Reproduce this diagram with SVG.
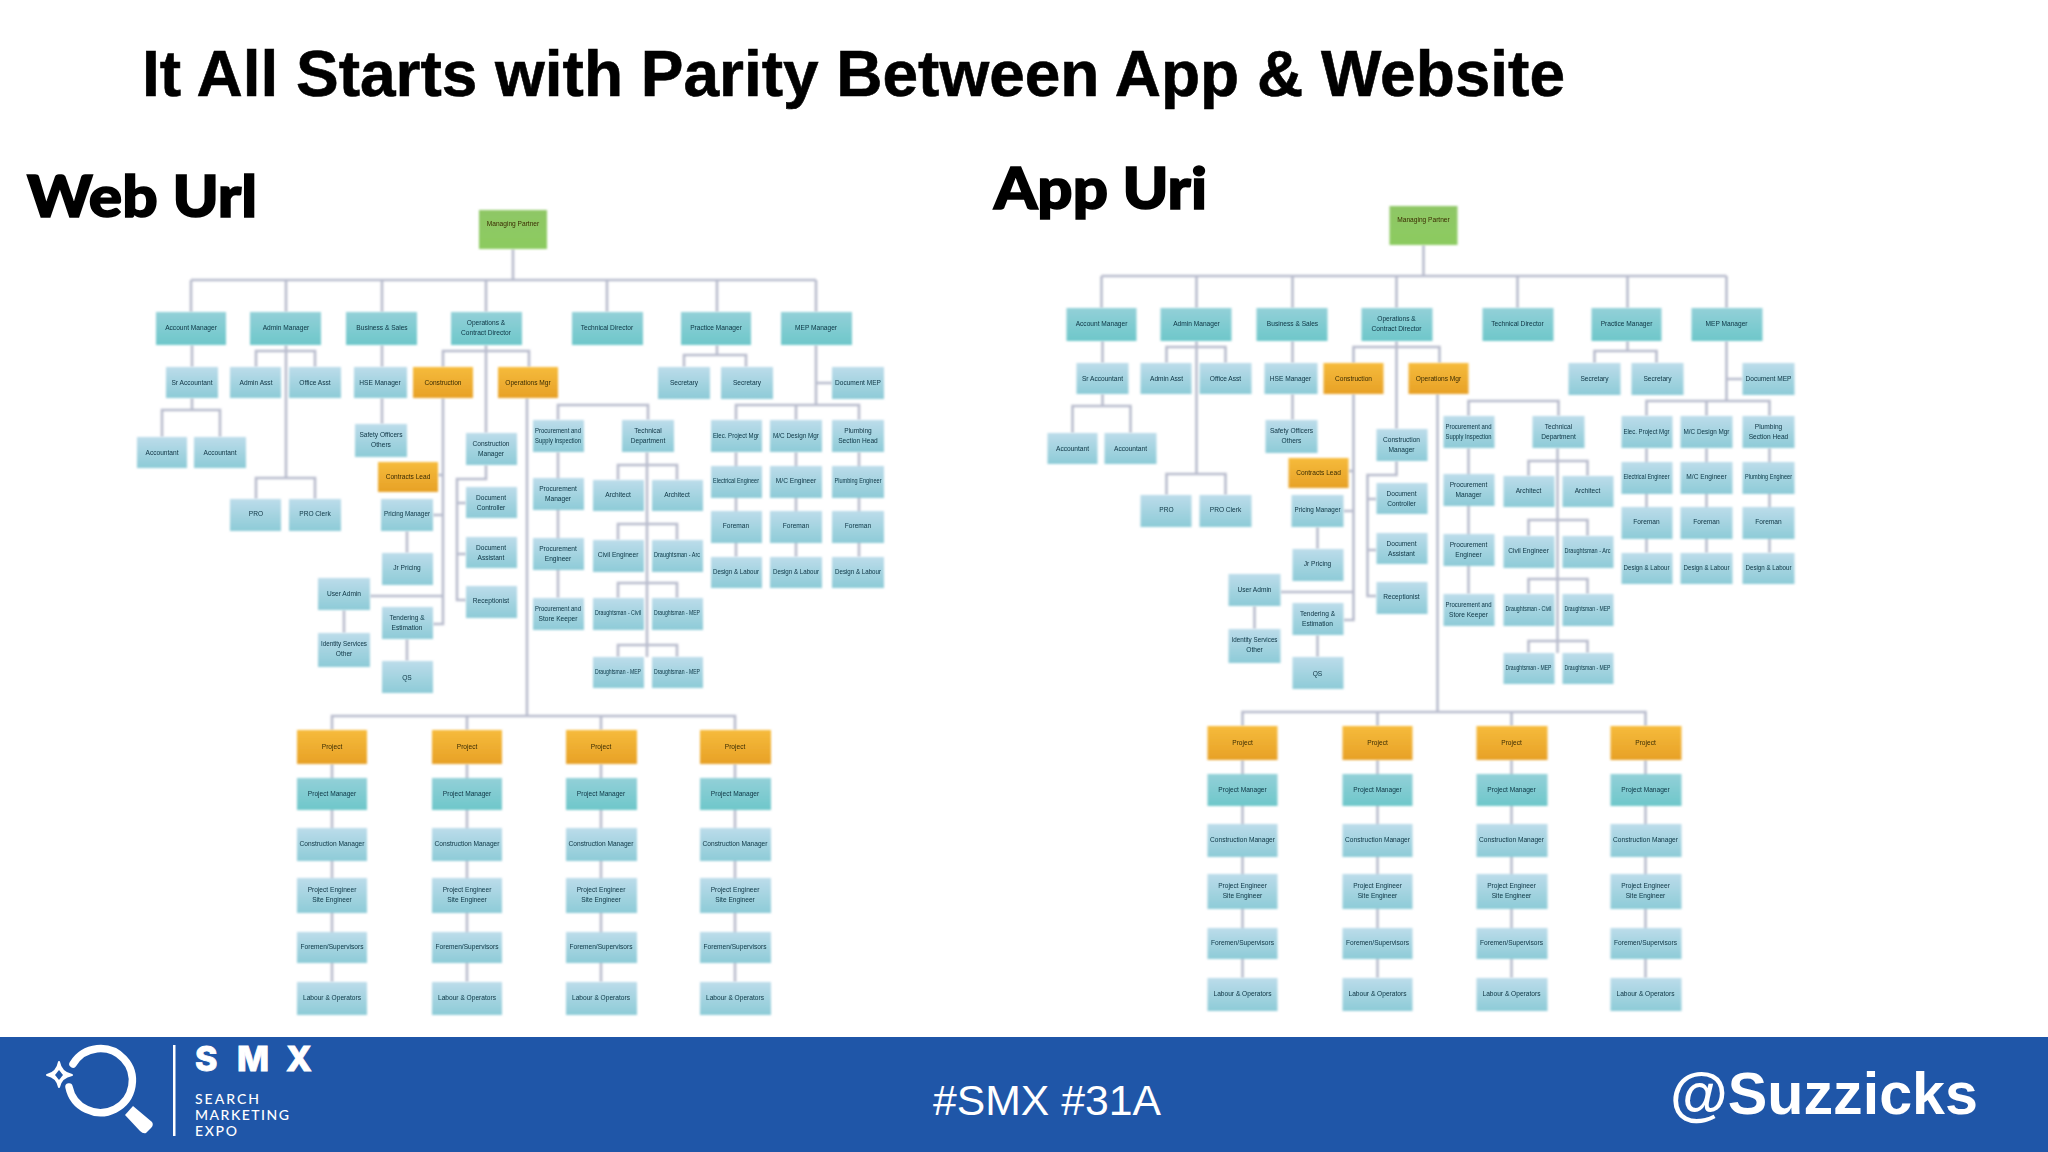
<svg xmlns="http://www.w3.org/2000/svg" width="2048" height="1152" viewBox="0 0 2048 1152">
<style>
.h{font-family:"Liberation Sans",Arial,sans-serif}
.s{font-family:Lato,"Open Sans",sans-serif;font-weight:900;stroke:#000;stroke-width:1.6}
.c text{font-family:"Liberation Sans",Arial,sans-serif;font-size:6.6px;font-weight:400;text-anchor:middle;fill:#0d3342;filter:url(#bt)}
.c .o+text,.c .g+text{fill:#3a2c08}
.c rect,.c path{filter:url(#bl)}
.t{fill:url(#gt)}.b{fill:url(#gb)}.o{fill:url(#go)}.g{fill:url(#gg)}
.k{fill:none;stroke:#b9bdce;stroke-width:2.6}
.f{fill:#fff;font-family:"Liberation Sans",Arial,sans-serif}
.l{fill:#fff;font-family:Lato,"Open Sans",sans-serif;font-weight:500;font-size:14px}
</style>
<defs>
<filter id="bl" x="-10%" y="-10%" width="120%" height="120%"><feGaussianBlur stdDeviation="1"/></filter>
<filter id="bt" x="-10%" y="-30%" width="120%" height="160%"><feGaussianBlur stdDeviation="0.45"/></filter>
<linearGradient id="gt" x1="0" y1="0" x2="0" y2="1"><stop offset="0" stop-color="#93d0d8"/><stop offset="1" stop-color="#6ec7ca"/></linearGradient>
<linearGradient id="gb" x1="0" y1="0" x2="0" y2="1"><stop offset="0" stop-color="#bcdcea"/><stop offset="1" stop-color="#8dcbd7"/></linearGradient>
<linearGradient id="go" x1="0" y1="0" x2="0" y2="1"><stop offset="0" stop-color="#f6bb3c"/><stop offset="1" stop-color="#e7a126"/></linearGradient>
<linearGradient id="gg" x1="0" y1="0" x2="0" y2="1"><stop offset="0" stop-color="#8fc766"/><stop offset="1" stop-color="#8ccb60"/></linearGradient>
</defs>
<rect width="2048" height="1152" fill="#fff"/>
<text id="title" class="h" x="142" y="96" font-size="64" font-weight="700" stroke="#000" stroke-width="0.6" textLength="1423" lengthAdjust="spacingAndGlyphs">It All Starts with Parity Between App &amp; Website</text>
<text id="web-label" class="s" x="27" y="217" font-size="58" textLength="230" lengthAdjust="spacingAndGlyphs">Web Url</text>
<text id="app-label" class="s" x="994" y="209" font-size="58" textLength="213" lengthAdjust="spacingAndGlyphs">App Uri</text>

<g id="web-chart" class="c">
<g id="web-connectors"><path class="k" d="M513 249V280M191 280H816M191 280V312M286 280V312M382 280V312M486 280V312M607 280V312M717 280V312M816 280V312M192 345V367M192 398V410M162 437V410H220V437M286 345V478M256 367V351H315V367M256 499V478H315V499M382 345V367M382 398V424M486 345V433M443 367V351H529V367M443 398V624H433M438 475H443M433 515H443M370 596H443M527 398V716M486 465V479H457V600H466M457 503H466M457 554H466M558 420V405H648V420M558 452V598M647 452V657M618 480V465H677V480M618 540V524H677V540M618 598V583H677V598M618 657V645H677V657M717 345V355M684 367V355H746V367M816 345V405M816 383H832M736 420V405H859V420M796 405V420M736 452V557M796 452V557M859 452V557M407 531V553M344 610V633M407 639V661M332 730V716H735V730M467 716V730M601 716V730M332 764V982M467 764V982M601 764V982M735 764V982"/></g>
<g id="w1"><rect class="g" x="479" y="210" width="68" height="39"/><text x="513" y="226">Managing Partner</text></g>
<g id="w2"><rect class="t" x="156" y="312" width="70" height="33"/><text x="191" y="330">Account Manager</text></g>
<g id="w3"><rect class="t" x="250" y="312" width="71" height="33"/><text x="286" y="330">Admin Manager</text></g>
<g id="w4"><rect class="t" x="346" y="312" width="71" height="33"/><text x="382" y="330">Business &amp; Sales</text></g>
<g id="w5"><rect class="t" x="451" y="312" width="71" height="33"/><text x="486" y="325">Operations &amp;</text><text x="486" y="335">Contract Director</text></g>
<g id="w6"><rect class="t" x="572" y="312" width="71" height="33"/><text x="607" y="330">Technical Director</text></g>
<g id="w7"><rect class="t" x="681" y="312" width="70" height="33"/><text x="716" y="330">Practice Manager</text></g>
<g id="w8"><rect class="t" x="781" y="312" width="71" height="33"/><text x="816" y="330">MEP Manager</text></g>
<g id="w9"><rect class="b" x="166" y="367" width="52" height="31"/><text x="192" y="385">Sr Accountant</text></g>
<g id="w10"><rect class="b" x="230" y="367" width="51" height="31"/><text x="256" y="385">Admin Asst</text></g>
<g id="w11"><rect class="b" x="289" y="367" width="52" height="31"/><text x="315" y="385">Office Asst</text></g>
<g id="w12"><rect class="b" x="354" y="367" width="53" height="31"/><text x="380" y="385">HSE Manager</text></g>
<g id="w13"><rect class="o" x="413" y="367" width="60" height="31"/><text x="443" y="385">Construction</text></g>
<g id="w14"><rect class="o" x="498" y="367" width="60" height="31"/><text x="528" y="385">Operations Mgr</text></g>
<g id="w15"><rect class="b" x="137" y="437" width="50" height="31"/><text x="162" y="455">Accountant</text></g>
<g id="w16"><rect class="b" x="194" y="437" width="52" height="31"/><text x="220" y="455">Accountant</text></g>
<g id="w17"><rect class="b" x="355" y="424" width="52" height="33"/><text x="381" y="437">Safety Officers</text><text x="381" y="447">Others</text></g>
<g id="w18"><rect class="o" x="378" y="462" width="60" height="30"/><text x="408" y="479">Contracts Lead</text></g>
<g id="w19"><rect class="b" x="381" y="499" width="52" height="32"/><text x="407" y="516" textLength="46" lengthAdjust="spacingAndGlyphs">Pricing Manager</text></g>
<g id="w20"><rect class="b" x="230" y="499" width="51" height="32"/><text x="256" y="516">PRO</text></g>
<g id="w21"><rect class="b" x="289" y="499" width="52" height="32"/><text x="315" y="516">PRO Clerk</text></g>
<g id="w22"><rect class="b" x="382" y="553" width="51" height="32"/><text x="407" y="570">Jr Pricing</text></g>
<g id="w23"><rect class="b" x="318" y="578" width="52" height="32"/><text x="344" y="596">User Admin</text></g>
<g id="w24"><rect class="b" x="318" y="633" width="52" height="34"/><text x="344" y="646" textLength="46" lengthAdjust="spacingAndGlyphs">Identity Services</text><text x="344" y="656">Other</text></g>
<g id="w25"><rect class="b" x="382" y="607" width="51" height="32"/><text x="407" y="620">Tendering &amp;</text><text x="407" y="630">Estimation</text></g>
<g id="w26"><rect class="b" x="382" y="661" width="51" height="32"/><text x="407" y="680">QS</text></g>
<g id="w27"><rect class="b" x="466" y="433" width="51" height="32"/><text x="491" y="446">Construction</text><text x="491" y="456">Manager</text></g>
<g id="w28"><rect class="b" x="466" y="487" width="51" height="31"/><text x="491" y="500">Document</text><text x="491" y="510">Controller</text></g>
<g id="w29"><rect class="b" x="466" y="537" width="51" height="31"/><text x="491" y="550">Document</text><text x="491" y="560">Assistant</text></g>
<g id="w30"><rect class="b" x="466" y="586" width="51" height="32"/><text x="491" y="603">Receptionist</text></g>
<g id="w31"><rect class="b" x="533" y="420" width="51" height="32"/><text x="558" y="433" textLength="46" lengthAdjust="spacingAndGlyphs">Procurement and</text><text x="558" y="443" textLength="46" lengthAdjust="spacingAndGlyphs">Supply Inspection</text></g>
<g id="w32"><rect class="b" x="622" y="420" width="52" height="32"/><text x="648" y="433">Technical</text><text x="648" y="443">Department</text></g>
<g id="w33"><rect class="b" x="533" y="478" width="51" height="32"/><text x="558" y="491">Procurement</text><text x="558" y="501">Manager</text></g>
<g id="w34"><rect class="b" x="533" y="538" width="51" height="32"/><text x="558" y="551">Procurement</text><text x="558" y="561">Engineer</text></g>
<g id="w35"><rect class="b" x="533" y="598" width="51" height="32"/><text x="558" y="611" textLength="46" lengthAdjust="spacingAndGlyphs">Procurement and</text><text x="558" y="621">Store Keeper</text></g>
<g id="w36"><rect class="b" x="593" y="480" width="51" height="31"/><text x="618" y="497">Architect</text></g>
<g id="w37"><rect class="b" x="652" y="480" width="51" height="31"/><text x="677" y="497">Architect</text></g>
<g id="w38"><rect class="b" x="593" y="540" width="51" height="32"/><text x="618" y="557">Civil Engineer</text></g>
<g id="w39"><rect class="b" x="652" y="540" width="51" height="32"/><text x="677" y="557" textLength="46" lengthAdjust="spacingAndGlyphs">Draughtsman - Arc</text></g>
<g id="w40"><rect class="b" x="593" y="598" width="51" height="32"/><text x="618" y="615" textLength="46" lengthAdjust="spacingAndGlyphs">Draughtsman - Civil</text></g>
<g id="w41"><rect class="b" x="652" y="598" width="51" height="32"/><text x="677" y="615" textLength="46" lengthAdjust="spacingAndGlyphs">Draughtsman - MEP</text></g>
<g id="w42"><rect class="b" x="593" y="657" width="51" height="31"/><text x="618" y="674" textLength="46" lengthAdjust="spacingAndGlyphs">Draughtsman - MEP</text></g>
<g id="w43"><rect class="b" x="652" y="657" width="51" height="31"/><text x="677" y="674" textLength="46" lengthAdjust="spacingAndGlyphs">Draughtsman - MEP</text></g>
<g id="w44"><rect class="b" x="658" y="367" width="52" height="32"/><text x="684" y="385">Secretary</text></g>
<g id="w45"><rect class="b" x="721" y="367" width="52" height="32"/><text x="747" y="385">Secretary</text></g>
<g id="w46"><rect class="b" x="832" y="367" width="52" height="32"/><text x="858" y="385" textLength="46" lengthAdjust="spacingAndGlyphs">Document MEP</text></g>
<g id="w47"><rect class="b" x="711" y="420" width="51" height="32"/><text x="736" y="438" textLength="46" lengthAdjust="spacingAndGlyphs">Elec. Project Mgr</text></g>
<g id="w48"><rect class="b" x="770" y="420" width="52" height="32"/><text x="796" y="438" textLength="46" lengthAdjust="spacingAndGlyphs">M/C Design Mgr</text></g>
<g id="w49"><rect class="b" x="832" y="420" width="52" height="32"/><text x="858" y="433">Plumbing</text><text x="858" y="443">Section Head</text></g>
<g id="w50"><rect class="b" x="711" y="466" width="51" height="32"/><text x="736" y="483" textLength="46" lengthAdjust="spacingAndGlyphs">Electrical Engineer</text></g>
<g id="w51"><rect class="b" x="770" y="466" width="52" height="32"/><text x="796" y="483">M/C Engineer</text></g>
<g id="w52"><rect class="b" x="832" y="466" width="52" height="32"/><text x="858" y="483" textLength="47" lengthAdjust="spacingAndGlyphs">Plumbing Engineer</text></g>
<g id="w53"><rect class="b" x="711" y="511" width="51" height="32"/><text x="736" y="528">Foreman</text></g>
<g id="w54"><rect class="b" x="770" y="511" width="52" height="32"/><text x="796" y="528">Foreman</text></g>
<g id="w55"><rect class="b" x="832" y="511" width="52" height="32"/><text x="858" y="528">Foreman</text></g>
<g id="w56"><rect class="b" x="711" y="557" width="51" height="31"/><text x="736" y="574" textLength="46" lengthAdjust="spacingAndGlyphs">Design &amp; Labour</text></g>
<g id="w57"><rect class="b" x="770" y="557" width="52" height="31"/><text x="796" y="574" textLength="46" lengthAdjust="spacingAndGlyphs">Design &amp; Labour</text></g>
<g id="w58"><rect class="b" x="832" y="557" width="52" height="31"/><text x="858" y="574" textLength="46" lengthAdjust="spacingAndGlyphs">Design &amp; Labour</text></g>
<g id="wa1"><rect class="o" x="297" y="730" width="70" height="34"/><text x="332" y="749">Project</text></g>
<g id="wa2"><rect class="t" x="297" y="778" width="70" height="32"/><text x="332" y="796">Project Manager</text></g>
<g id="wa3"><rect class="b" x="297" y="828" width="70" height="33"/><text x="332" y="846">Construction Manager</text></g>
<g id="wa4"><rect class="b" x="297" y="878" width="70" height="35"/><text x="332" y="892">Project Engineer</text><text x="332" y="902">Site Engineer</text></g>
<g id="wa5"><rect class="b" x="297" y="932" width="70" height="31"/><text x="332" y="949">Foremen/Supervisors</text></g>
<g id="wa6"><rect class="b" x="297" y="982" width="70" height="33"/><text x="332" y="1000">Labour &amp; Operators</text></g>
<g id="wb1"><rect class="o" x="432" y="730" width="70" height="34"/><text x="467" y="749">Project</text></g>
<g id="wb2"><rect class="t" x="432" y="778" width="70" height="32"/><text x="467" y="796">Project Manager</text></g>
<g id="wb3"><rect class="b" x="432" y="828" width="70" height="33"/><text x="467" y="846">Construction Manager</text></g>
<g id="wb4"><rect class="b" x="432" y="878" width="70" height="35"/><text x="467" y="892">Project Engineer</text><text x="467" y="902">Site Engineer</text></g>
<g id="wb5"><rect class="b" x="432" y="932" width="70" height="31"/><text x="467" y="949">Foremen/Supervisors</text></g>
<g id="wb6"><rect class="b" x="432" y="982" width="70" height="33"/><text x="467" y="1000">Labour &amp; Operators</text></g>
<g id="wc1"><rect class="o" x="566" y="730" width="71" height="34"/><text x="601" y="749">Project</text></g>
<g id="wc2"><rect class="t" x="566" y="778" width="71" height="32"/><text x="601" y="796">Project Manager</text></g>
<g id="wc3"><rect class="b" x="566" y="828" width="71" height="33"/><text x="601" y="846">Construction Manager</text></g>
<g id="wc4"><rect class="b" x="566" y="878" width="71" height="35"/><text x="601" y="892">Project Engineer</text><text x="601" y="902">Site Engineer</text></g>
<g id="wc5"><rect class="b" x="566" y="932" width="71" height="31"/><text x="601" y="949">Foremen/Supervisors</text></g>
<g id="wc6"><rect class="b" x="566" y="982" width="71" height="33"/><text x="601" y="1000">Labour &amp; Operators</text></g>
<g id="wd1"><rect class="o" x="700" y="730" width="71" height="34"/><text x="735" y="749">Project</text></g>
<g id="wd2"><rect class="t" x="700" y="778" width="71" height="32"/><text x="735" y="796">Project Manager</text></g>
<g id="wd3"><rect class="b" x="700" y="828" width="71" height="33"/><text x="735" y="846">Construction Manager</text></g>
<g id="wd4"><rect class="b" x="700" y="878" width="71" height="35"/><text x="735" y="892">Project Engineer</text><text x="735" y="902">Site Engineer</text></g>
<g id="wd5"><rect class="b" x="700" y="932" width="71" height="31"/><text x="735" y="949">Foremen/Supervisors</text></g>
<g id="wd6"><rect class="b" x="700" y="982" width="71" height="33"/><text x="735" y="1000">Labour &amp; Operators</text></g>
</g>

<g id="app-chart" class="c" transform="translate(910.5,-4)">
<g id="app-connectors"><path class="k" d="M513 249V280M191 280H816M191 280V312M286 280V312M382 280V312M486 280V312M607 280V312M717 280V312M816 280V312M192 345V367M192 398V410M162 437V410H220V437M286 345V478M256 367V351H315V367M256 499V478H315V499M382 345V367M382 398V424M486 345V433M443 367V351H529V367M443 398V624H433M438 475H443M433 515H443M370 596H443M527 398V716M486 465V479H457V600H466M457 503H466M457 554H466M558 420V405H648V420M558 452V598M647 452V657M618 480V465H677V480M618 540V524H677V540M618 598V583H677V598M618 657V645H677V657M717 345V355M684 367V355H746V367M816 345V405M816 383H832M736 420V405H859V420M796 405V420M736 452V557M796 452V557M859 452V557M407 531V553M344 610V633M407 639V661M332 730V716H735V730M467 716V730M601 716V730M332 764V982M467 764V982M601 764V982M735 764V982"/></g>
<g id="a1"><rect class="g" x="479" y="210" width="68" height="39"/><text x="513" y="226">Managing Partner</text></g>
<g id="a2"><rect class="t" x="156" y="312" width="70" height="33"/><text x="191" y="330">Account Manager</text></g>
<g id="a3"><rect class="t" x="250" y="312" width="71" height="33"/><text x="286" y="330">Admin Manager</text></g>
<g id="a4"><rect class="t" x="346" y="312" width="71" height="33"/><text x="382" y="330">Business &amp; Sales</text></g>
<g id="a5"><rect class="t" x="451" y="312" width="71" height="33"/><text x="486" y="325">Operations &amp;</text><text x="486" y="335">Contract Director</text></g>
<g id="a6"><rect class="t" x="572" y="312" width="71" height="33"/><text x="607" y="330">Technical Director</text></g>
<g id="a7"><rect class="t" x="681" y="312" width="70" height="33"/><text x="716" y="330">Practice Manager</text></g>
<g id="a8"><rect class="t" x="781" y="312" width="71" height="33"/><text x="816" y="330">MEP Manager</text></g>
<g id="a9"><rect class="b" x="166" y="367" width="52" height="31"/><text x="192" y="385">Sr Accountant</text></g>
<g id="a10"><rect class="b" x="230" y="367" width="51" height="31"/><text x="256" y="385">Admin Asst</text></g>
<g id="a11"><rect class="b" x="289" y="367" width="52" height="31"/><text x="315" y="385">Office Asst</text></g>
<g id="a12"><rect class="b" x="354" y="367" width="53" height="31"/><text x="380" y="385">HSE Manager</text></g>
<g id="a13"><rect class="o" x="413" y="367" width="60" height="31"/><text x="443" y="385">Construction</text></g>
<g id="a14"><rect class="o" x="498" y="367" width="60" height="31"/><text x="528" y="385">Operations Mgr</text></g>
<g id="a15"><rect class="b" x="137" y="437" width="50" height="31"/><text x="162" y="455">Accountant</text></g>
<g id="a16"><rect class="b" x="194" y="437" width="52" height="31"/><text x="220" y="455">Accountant</text></g>
<g id="a17"><rect class="b" x="355" y="424" width="52" height="33"/><text x="381" y="437">Safety Officers</text><text x="381" y="447">Others</text></g>
<g id="a18"><rect class="o" x="378" y="462" width="60" height="30"/><text x="408" y="479">Contracts Lead</text></g>
<g id="a19"><rect class="b" x="381" y="499" width="52" height="32"/><text x="407" y="516" textLength="46" lengthAdjust="spacingAndGlyphs">Pricing Manager</text></g>
<g id="a20"><rect class="b" x="230" y="499" width="51" height="32"/><text x="256" y="516">PRO</text></g>
<g id="a21"><rect class="b" x="289" y="499" width="52" height="32"/><text x="315" y="516">PRO Clerk</text></g>
<g id="a22"><rect class="b" x="382" y="553" width="51" height="32"/><text x="407" y="570">Jr Pricing</text></g>
<g id="a23"><rect class="b" x="318" y="578" width="52" height="32"/><text x="344" y="596">User Admin</text></g>
<g id="a24"><rect class="b" x="318" y="633" width="52" height="34"/><text x="344" y="646" textLength="46" lengthAdjust="spacingAndGlyphs">Identity Services</text><text x="344" y="656">Other</text></g>
<g id="a25"><rect class="b" x="382" y="607" width="51" height="32"/><text x="407" y="620">Tendering &amp;</text><text x="407" y="630">Estimation</text></g>
<g id="a26"><rect class="b" x="382" y="661" width="51" height="32"/><text x="407" y="680">QS</text></g>
<g id="a27"><rect class="b" x="466" y="433" width="51" height="32"/><text x="491" y="446">Construction</text><text x="491" y="456">Manager</text></g>
<g id="a28"><rect class="b" x="466" y="487" width="51" height="31"/><text x="491" y="500">Document</text><text x="491" y="510">Controller</text></g>
<g id="a29"><rect class="b" x="466" y="537" width="51" height="31"/><text x="491" y="550">Document</text><text x="491" y="560">Assistant</text></g>
<g id="a30"><rect class="b" x="466" y="586" width="51" height="32"/><text x="491" y="603">Receptionist</text></g>
<g id="a31"><rect class="b" x="533" y="420" width="51" height="32"/><text x="558" y="433" textLength="46" lengthAdjust="spacingAndGlyphs">Procurement and</text><text x="558" y="443" textLength="46" lengthAdjust="spacingAndGlyphs">Supply Inspection</text></g>
<g id="a32"><rect class="b" x="622" y="420" width="52" height="32"/><text x="648" y="433">Technical</text><text x="648" y="443">Department</text></g>
<g id="a33"><rect class="b" x="533" y="478" width="51" height="32"/><text x="558" y="491">Procurement</text><text x="558" y="501">Manager</text></g>
<g id="a34"><rect class="b" x="533" y="538" width="51" height="32"/><text x="558" y="551">Procurement</text><text x="558" y="561">Engineer</text></g>
<g id="a35"><rect class="b" x="533" y="598" width="51" height="32"/><text x="558" y="611" textLength="46" lengthAdjust="spacingAndGlyphs">Procurement and</text><text x="558" y="621">Store Keeper</text></g>
<g id="a36"><rect class="b" x="593" y="480" width="51" height="31"/><text x="618" y="497">Architect</text></g>
<g id="a37"><rect class="b" x="652" y="480" width="51" height="31"/><text x="677" y="497">Architect</text></g>
<g id="a38"><rect class="b" x="593" y="540" width="51" height="32"/><text x="618" y="557">Civil Engineer</text></g>
<g id="a39"><rect class="b" x="652" y="540" width="51" height="32"/><text x="677" y="557" textLength="46" lengthAdjust="spacingAndGlyphs">Draughtsman - Arc</text></g>
<g id="a40"><rect class="b" x="593" y="598" width="51" height="32"/><text x="618" y="615" textLength="46" lengthAdjust="spacingAndGlyphs">Draughtsman - Civil</text></g>
<g id="a41"><rect class="b" x="652" y="598" width="51" height="32"/><text x="677" y="615" textLength="46" lengthAdjust="spacingAndGlyphs">Draughtsman - MEP</text></g>
<g id="a42"><rect class="b" x="593" y="657" width="51" height="31"/><text x="618" y="674" textLength="46" lengthAdjust="spacingAndGlyphs">Draughtsman - MEP</text></g>
<g id="a43"><rect class="b" x="652" y="657" width="51" height="31"/><text x="677" y="674" textLength="46" lengthAdjust="spacingAndGlyphs">Draughtsman - MEP</text></g>
<g id="a44"><rect class="b" x="658" y="367" width="52" height="32"/><text x="684" y="385">Secretary</text></g>
<g id="a45"><rect class="b" x="721" y="367" width="52" height="32"/><text x="747" y="385">Secretary</text></g>
<g id="a46"><rect class="b" x="832" y="367" width="52" height="32"/><text x="858" y="385" textLength="46" lengthAdjust="spacingAndGlyphs">Document MEP</text></g>
<g id="a47"><rect class="b" x="711" y="420" width="51" height="32"/><text x="736" y="438" textLength="46" lengthAdjust="spacingAndGlyphs">Elec. Project Mgr</text></g>
<g id="a48"><rect class="b" x="770" y="420" width="52" height="32"/><text x="796" y="438" textLength="46" lengthAdjust="spacingAndGlyphs">M/C Design Mgr</text></g>
<g id="a49"><rect class="b" x="832" y="420" width="52" height="32"/><text x="858" y="433">Plumbing</text><text x="858" y="443">Section Head</text></g>
<g id="a50"><rect class="b" x="711" y="466" width="51" height="32"/><text x="736" y="483" textLength="46" lengthAdjust="spacingAndGlyphs">Electrical Engineer</text></g>
<g id="a51"><rect class="b" x="770" y="466" width="52" height="32"/><text x="796" y="483">M/C Engineer</text></g>
<g id="a52"><rect class="b" x="832" y="466" width="52" height="32"/><text x="858" y="483" textLength="47" lengthAdjust="spacingAndGlyphs">Plumbing Engineer</text></g>
<g id="a53"><rect class="b" x="711" y="511" width="51" height="32"/><text x="736" y="528">Foreman</text></g>
<g id="a54"><rect class="b" x="770" y="511" width="52" height="32"/><text x="796" y="528">Foreman</text></g>
<g id="a55"><rect class="b" x="832" y="511" width="52" height="32"/><text x="858" y="528">Foreman</text></g>
<g id="a56"><rect class="b" x="711" y="557" width="51" height="31"/><text x="736" y="574" textLength="46" lengthAdjust="spacingAndGlyphs">Design &amp; Labour</text></g>
<g id="a57"><rect class="b" x="770" y="557" width="52" height="31"/><text x="796" y="574" textLength="46" lengthAdjust="spacingAndGlyphs">Design &amp; Labour</text></g>
<g id="a58"><rect class="b" x="832" y="557" width="52" height="31"/><text x="858" y="574" textLength="46" lengthAdjust="spacingAndGlyphs">Design &amp; Labour</text></g>
<g id="aa1"><rect class="o" x="297" y="730" width="70" height="34"/><text x="332" y="749">Project</text></g>
<g id="aa2"><rect class="t" x="297" y="778" width="70" height="32"/><text x="332" y="796">Project Manager</text></g>
<g id="aa3"><rect class="b" x="297" y="828" width="70" height="33"/><text x="332" y="846">Construction Manager</text></g>
<g id="aa4"><rect class="b" x="297" y="878" width="70" height="35"/><text x="332" y="892">Project Engineer</text><text x="332" y="902">Site Engineer</text></g>
<g id="aa5"><rect class="b" x="297" y="932" width="70" height="31"/><text x="332" y="949">Foremen/Supervisors</text></g>
<g id="aa6"><rect class="b" x="297" y="982" width="70" height="33"/><text x="332" y="1000">Labour &amp; Operators</text></g>
<g id="ab1"><rect class="o" x="432" y="730" width="70" height="34"/><text x="467" y="749">Project</text></g>
<g id="ab2"><rect class="t" x="432" y="778" width="70" height="32"/><text x="467" y="796">Project Manager</text></g>
<g id="ab3"><rect class="b" x="432" y="828" width="70" height="33"/><text x="467" y="846">Construction Manager</text></g>
<g id="ab4"><rect class="b" x="432" y="878" width="70" height="35"/><text x="467" y="892">Project Engineer</text><text x="467" y="902">Site Engineer</text></g>
<g id="ab5"><rect class="b" x="432" y="932" width="70" height="31"/><text x="467" y="949">Foremen/Supervisors</text></g>
<g id="ab6"><rect class="b" x="432" y="982" width="70" height="33"/><text x="467" y="1000">Labour &amp; Operators</text></g>
<g id="ac1"><rect class="o" x="566" y="730" width="71" height="34"/><text x="601" y="749">Project</text></g>
<g id="ac2"><rect class="t" x="566" y="778" width="71" height="32"/><text x="601" y="796">Project Manager</text></g>
<g id="ac3"><rect class="b" x="566" y="828" width="71" height="33"/><text x="601" y="846">Construction Manager</text></g>
<g id="ac4"><rect class="b" x="566" y="878" width="71" height="35"/><text x="601" y="892">Project Engineer</text><text x="601" y="902">Site Engineer</text></g>
<g id="ac5"><rect class="b" x="566" y="932" width="71" height="31"/><text x="601" y="949">Foremen/Supervisors</text></g>
<g id="ac6"><rect class="b" x="566" y="982" width="71" height="33"/><text x="601" y="1000">Labour &amp; Operators</text></g>
<g id="ad1"><rect class="o" x="700" y="730" width="71" height="34"/><text x="735" y="749">Project</text></g>
<g id="ad2"><rect class="t" x="700" y="778" width="71" height="32"/><text x="735" y="796">Project Manager</text></g>
<g id="ad3"><rect class="b" x="700" y="828" width="71" height="33"/><text x="735" y="846">Construction Manager</text></g>
<g id="ad4"><rect class="b" x="700" y="878" width="71" height="35"/><text x="735" y="892">Project Engineer</text><text x="735" y="902">Site Engineer</text></g>
<g id="ad5"><rect class="b" x="700" y="932" width="71" height="31"/><text x="735" y="949">Foremen/Supervisors</text></g>
<g id="ad6"><rect class="b" x="700" y="982" width="71" height="33"/><text x="735" y="1000">Labour &amp; Operators</text></g>
</g>

<g id="footer">
<rect x="0" y="1037" width="2048" height="115" fill="#1f56a8"/>
<path d="M73 1064A32 32 0 1 1 69 1087" fill="none" stroke="#fff" stroke-width="7.5" stroke-linecap="round"/>
<path d="M133 1106L125 1115L140 1131Q143 1134 146 1133L151 1128Q154 1125 152 1122Z" fill="#fff"/>
<path d="M59 1062Q61 1073 72 1075Q61 1077 59 1087Q57 1077 47 1075Q57 1073 59 1062Z" fill="#fff" stroke="#fff" stroke-width="2" stroke-linejoin="round"/>
<path d="M59 1070L63 1075L59 1080L55 1075Z" fill="#1f56a8"/>
<rect x="173" y="1045" width="2.5" height="91" fill="#fff"/>
<text class="l" x="195 237 286" y="1071" stroke="#fff" stroke-width="0.8" style="font-family:Inter,Lato,sans-serif;font-weight:800;font-size:34px">SMX</text>
<text class="l" x="195" y="1104" textLength="64">SEARCH</text>
<text class="l" x="195" y="1120" textLength="94">MARKETING</text>
<text class="l" x="195" y="1136" textLength="42">EXPO</text>
<text class="f" x="933" y="1115" font-size="43" textLength="228" lengthAdjust="spacingAndGlyphs">#SMX #31A</text>
<text class="f" x="1670" y="1114" font-size="59" font-weight="700" textLength="308" lengthAdjust="spacingAndGlyphs">@Suzzicks</text>
</g>
</svg>
